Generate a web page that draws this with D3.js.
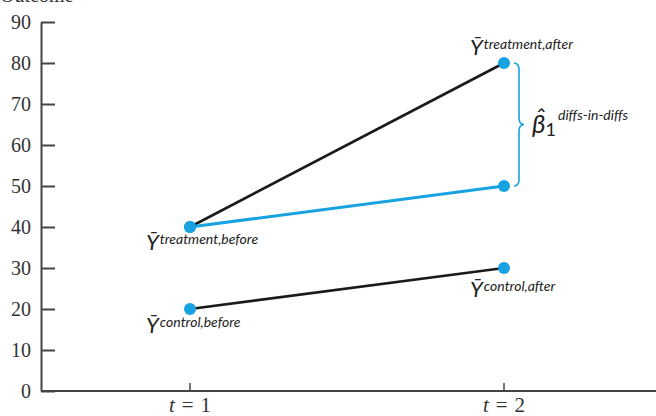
<!DOCTYPE html>
<html><head><meta charset="utf-8">
<script src="https://cdn.jsdelivr.net/npm/d3@7"></script>
<style>body{margin:0;background:#fff}</style>
</head><body>
<svg id="c" width="656" height="416"></svg>
<script>
const periods = [1, 2];
const periodLabels = ["1", "2"];
const treatment = [40, 80];
const counterfactual = [40, 50];
const control = [20, 30];
const yTicks = [0, 10, 20, 30, 40, 50, 60, 70, 80, 90];
const pointLabels = [
  {sup: "treatment,after", t: 2, v: 80, dx: -34, dy: -8},
  {sup: "treatment,before", t: 1, v: 40, dx: -44, dy: 23},
  {sup: "control,before", t: 1, v: 20, dx: -44, dy: 24},
  {sup: "control,after", t: 2, v: 30, dx: -34, dy: 29}
];

const blue = "#17a2e2", dark = "#1a1a1a", axisC = "#444";
const svg = d3.select("#c");
const x = d3.scaleLinear().domain([1, 2]).range([190, 504]);
const y = d3.scaleLinear().domain([0, 90]).range([391, 22]);
const left = 41, right = 656;

// y axis
const ya = svg.append("g").attr("transform", `translate(${left},0)`)
  .call(d3.axisLeft(y).tickValues(yTicks).tickSizeInner(-14).tickSizeOuter(0).tickPadding(10));
ya.select(".domain").attr("stroke", axisC).attr("stroke-width", 2);
ya.selectAll(".tick line").attr("stroke", axisC).attr("stroke-width", 2);
ya.selectAll(".tick text").attr("font-family", "Liberation Serif, serif").attr("font-size", 20).attr("fill", "#333").attr("dy", "0.34em");

// x axis line
svg.append("line").attr("x1", left).attr("x2", right).attr("y1", y(0)).attr("y2", y(0))
  .attr("stroke", axisC).attr("stroke-width", 2.2);
const xt = svg.append("g").selectAll("g").data(periods).join("g")
  .attr("transform", d => `translate(${x(d)},${y(0)})`);
xt.append("line").attr("y1", 0).attr("y2", -8).attr("stroke", axisC).attr("stroke-width", 1.5);
const xl = xt.append("text").attr("y", 21).attr("text-anchor", "middle")
  .attr("font-family", "Liberation Serif, serif").attr("font-size", 21).attr("fill", "#333");
xl.append("tspan").attr("font-style", "italic").text("t");
xl.append("tspan").text((d, i) => "\u2004=\u2004" + periodLabels[i]);

// y title
svg.append("text").attr("x", 0).attr("y", 2).attr("font-family", "Liberation Serif, serif")
  .attr("font-size", 20).attr("fill", "#333").text("Outcome");

const line = d3.line().x((d, i) => x(periods[i])).y(d => y(d));
svg.append("path").datum(treatment).attr("d", line).attr("fill", "none").attr("stroke", dark).attr("stroke-width", 2.6);
svg.append("path").datum(control).attr("d", line).attr("fill", "none").attr("stroke", dark).attr("stroke-width", 2.6);
svg.append("path").datum(counterfactual).attr("d", line).attr("fill", "none").attr("stroke", blue).attr("stroke-width", 3);

const pts = [];
[treatment, counterfactual, control].forEach(s => s.forEach((v, i) => pts.push([periods[i], v])));
svg.append("g").selectAll("circle").data(pts).join("circle")
  .attr("cx", d => x(d[0])).attr("cy", d => y(d[1])).attr("r", 6).attr("fill", blue);

// point labels
const pl = svg.append("g").selectAll("text").data(pointLabels).join("text")
  .attr("x", d => x(d.t) + d.dx).attr("y", d => y(d.v) + d.dy)
  .attr("font-family", "Lato, sans-serif").attr("fill", "#222");
pl.append("tspan").attr("font-size", 22).attr("font-style", "italic").text("Ȳ");
pl.append("tspan").attr("font-size", 14).attr("font-style", "italic").attr("dy", -6).attr("dx", 1).text(d => d.sup);

// brace
const bx = x(2) + 10, bw = 10, yT = y(treatment[1]), yB = y(counterfactual[1]), ym = (yT + yB) / 2, r = 7;
const h = bx + bw / 2;
svg.append("path").attr("fill", "none").attr("stroke", blue).attr("stroke-width", 1.6)
  .attr("d", `M${bx},${yT} Q${h},${yT} ${h},${yT + r} L${h},${ym - r} Q${h},${ym} ${bx + bw},${ym} Q${h},${ym} ${h},${ym + r} L${h},${yB - r} Q${h},${yB} ${bx},${yB}`);

// beta label
const bt = svg.append("text").attr("x", bx + bw + 8).attr("y", ym + 8)
  .attr("font-family", "Lato, sans-serif").attr("fill", "#222");
bt.append("tspan").attr("font-size", 26).attr("font-style", "italic").text("β\u0302");
bt.append("tspan").attr("font-size", 18).attr("dy", 3).text("1");
bt.append("tspan").attr("font-size", 14).attr("font-style", "italic").attr("dy", -16).attr("dx", 2).text("diffs-in-diffs");
</script>
</body></html>
